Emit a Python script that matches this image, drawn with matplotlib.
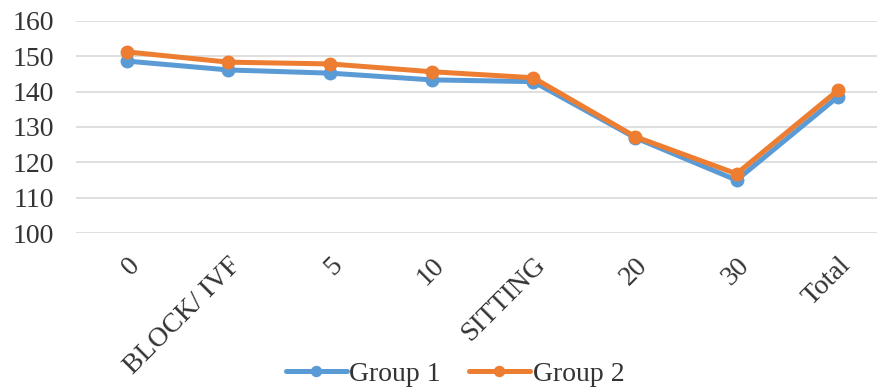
import matplotlib
matplotlib.use("Agg")
import matplotlib.pyplot as plt

categories = ["0", "BLOCK/ IVF", "5", "10", "SITTING", "20", "30", "Total"]
group1 = [148.6, 146.1, 145.2, 143.3, 142.8, 127.0, 115.0, 138.6]
group2 = [151.2, 148.3, 147.8, 145.6, 143.9, 127.3, 116.8, 140.4]


def main():
    plt.rcParams['font.family'] = ['Liberation Serif', 'DejaVu Serif']
    fig = plt.figure(figsize=(8.77, 3.87), dpi=100)
    ax = fig.add_axes([76 / 877, 1 - 233.3 / 387, 813 / 877, 212.6 / 387])

    x = list(range(len(categories)))
    ax.plot(x, group1, color='#5B9BD5', lw=3.6, marker='o', ms=9,
            solid_capstyle='round', label='Group 1', zorder=3)
    ax.plot(x, group2, color='#ED7D31', lw=3.6, marker='o', ms=9,
            solid_capstyle='round', label='Group 2', zorder=4)

    ax.set_xlim(-0.5, len(categories) - 0.5)
    ax.set_ylim(100, 160)
    ax.set_yticks(range(100, 161, 10))
    ax.yaxis.grid(True, color='#D9D9D9', lw=1.2)
    ax.set_axisbelow(True)
    for s in ax.spines.values():
        s.set_visible(False)
    ax.tick_params(axis='both', length=0, labelsize=20, colors='#333333')
    ax.tick_params(axis='y', pad=16)
    ax.set_xticks(x)
    ax.set_xticklabels(categories, rotation=45, ha='right',
                       rotation_mode='anchor')
    ax.tick_params(axis='x', pad=14)

    fig.legend(loc='lower center', bbox_to_anchor=(455 / 877, -0.065), ncol=2,
               frameon=False, fontsize=20, handlelength=2.2, markerscale=0.8,
               handletextpad=0.1, columnspacing=1.0, labelcolor='#333333')
    fig.savefig('out.png', dpi=100)


if __name__ == "__main__":
    main()
